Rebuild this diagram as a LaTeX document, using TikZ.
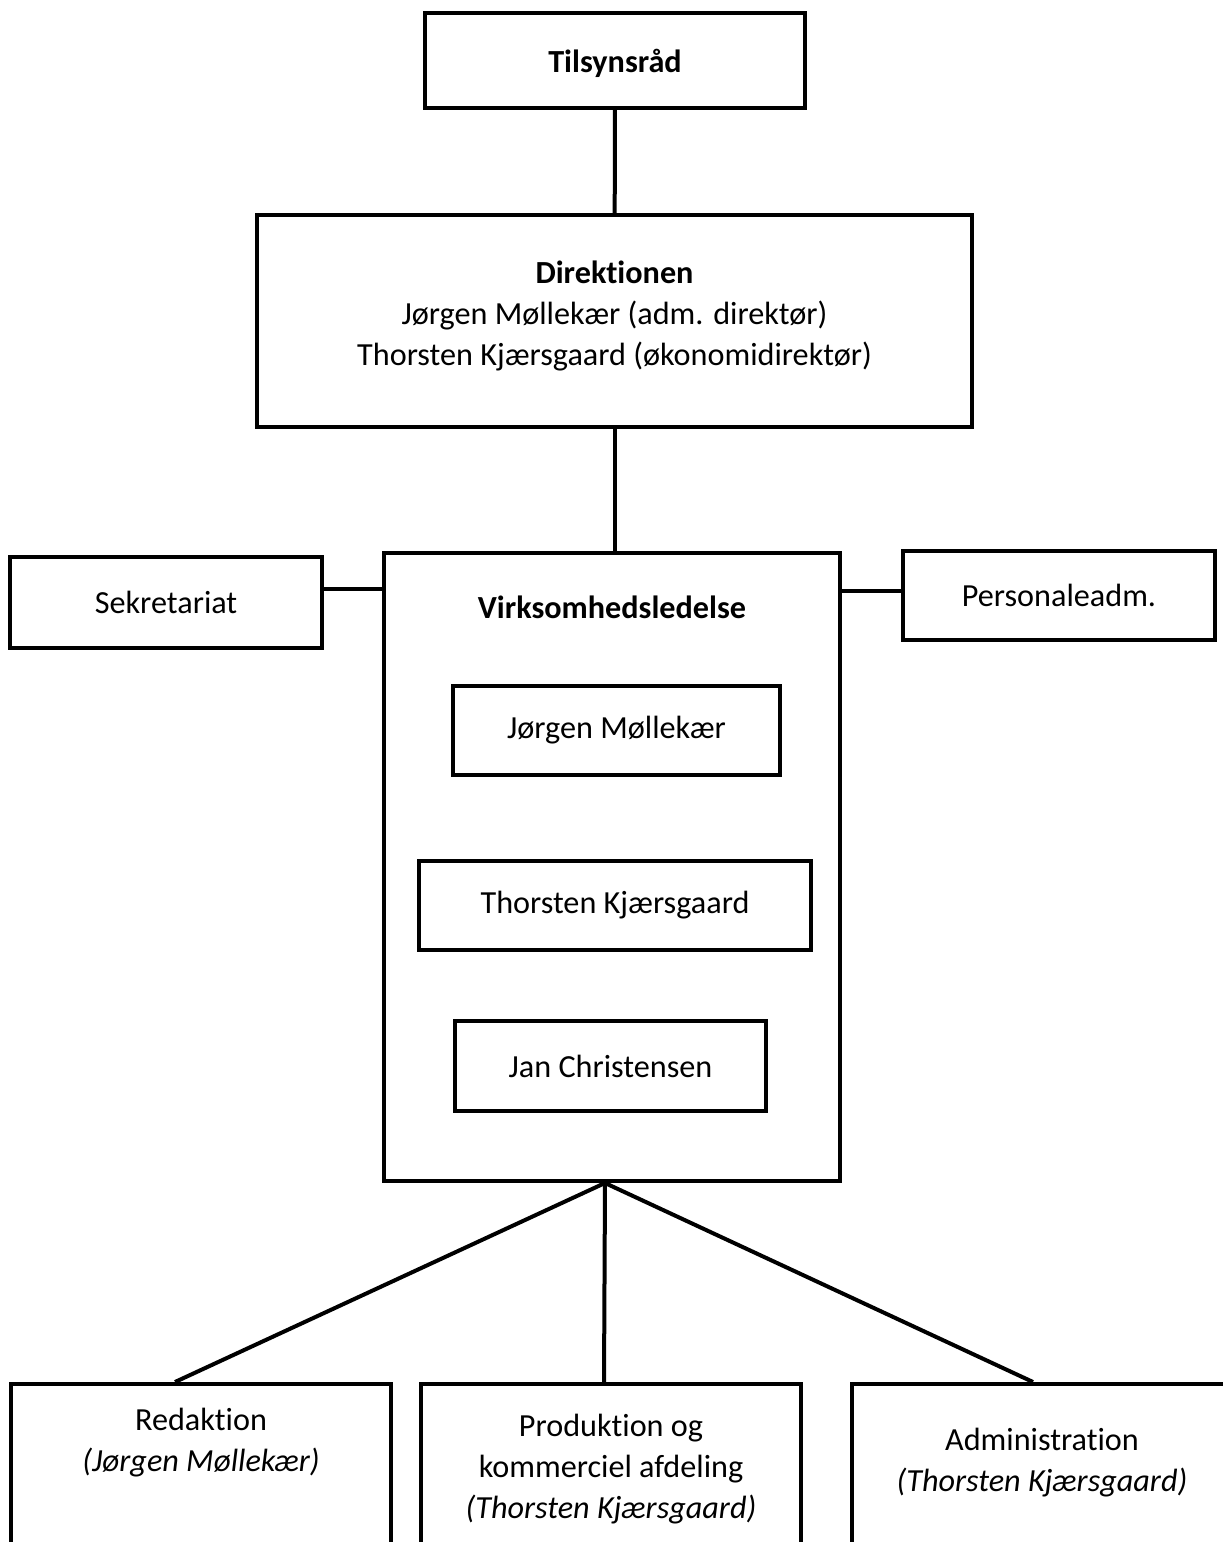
\documentclass[tikz,border=0pt]{standalone}
\usepackage{fontspec}
\setmainfont{Carlito}[Ligatures=NoCommon]
\begin{document}
\begin{tikzpicture}[x=1pt,y=-1pt]
        \tikzstyle{every node}=[font=\fontsize{32.2}{41}\selectfont,align=center];
        \tikzstyle{box}=[draw,line width=4pt,inner sep=0pt];
        \useasboundingbox (0,0) rectangle (1223,1542);
        \clip (0,0) rectangle (1223,1542);
        %top of the chart
        \node[box,minimum width=380,minimum height=95] (til) at (615,60.5) {};
        \node (tiltext) at (615,63) {\textbf{Tilsynsråd}};
        \node[box,minimum width=715,minimum height=212] (dir) at (614.5,321) {};
        \node (dirtext) at (614.5,316) {\textbf{Direktionen}\\Jørgen Møllekær (adm. direktør)\\Thorsten Kjærsgaard (økonomidirektør)};
        %middle
        \node[box,minimum width=456,minimum height=628] (vl) at (612,867) {};
        \node (vltext) at (612,607) {\textbf{Virksomhedsledelse}};
        \node[box,minimum width=312,minimum height=91] (sek) at (166,602.5) {Sekretariat};
        \node[box,minimum width=312,minimum height=89] (pers) at (1059,595.5) {Personaleadm.};
        \node[box,minimum width=327,minimum height=89] (jm) at (616.5,730.5) {Jørgen Møllekær};
        \node[box,minimum width=392,minimum height=89] (tk) at (615,905.5) {Thorsten Kjærsgaard};
        \node[box,minimum width=311,minimum height=90] (jc) at (610.5,1066) {Jan Christensen};
        %bottom row
        \node[box,minimum width=380,minimum height=240] (red) at (201,1504) {};
        \node[box,minimum width=380,minimum height=240] (prod) at (611,1504) {};
        \node[box,minimum width=380,minimum height=240] (adm) at (1042,1504) {};
        \node (redtext) at (201,1443) {Redaktion\\\textit{(Jørgen Møllekær)}};
        \node (prodtext) at (611,1469) {Produktion og\\kommerciel afdeling\\\textit{(Thorsten Kjærsgaard)}};
        \node (admtext) at (1042,1463) {Administration\\\textit{(Thorsten Kjærsgaard)}};
        \draw[line width=4pt] (til)--(dir);
        \draw[line width=4pt] (dir.south)--(dir.south |- vl.north);
        \draw[line width=4pt] ([yshift=14pt]sek.east)--([yshift=14pt]sek.east -| vl.west);
        \draw[line width=4pt] ([yshift=5pt]pers.west)--([yshift=5pt]pers.west -| vl.east);
        \draw[line width=4pt] ([xshift=-7pt]vl.south)--([xshift=-26pt]red.north);
        \draw[line width=4pt] ([xshift=-7pt]vl.south)--([xshift=-7pt]prod.north);
        \draw[line width=4pt] ([xshift=-7pt]vl.south)--([xshift=-9pt]adm.north);
    \end{tikzpicture}
\end{document}
